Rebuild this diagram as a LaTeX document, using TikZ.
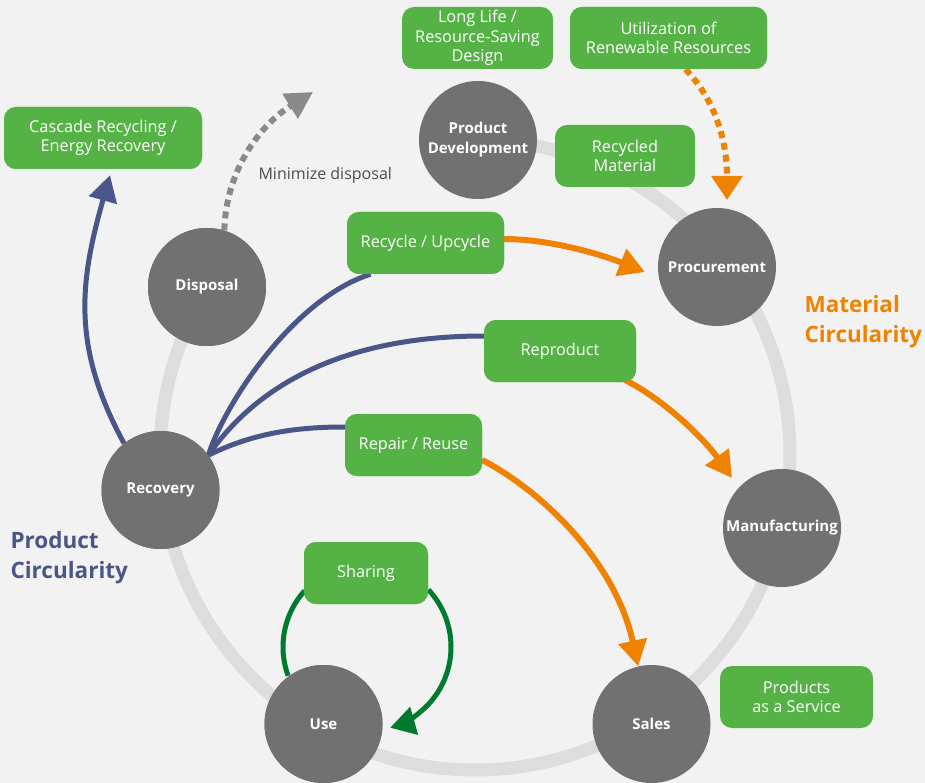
\documentclass[tikz,border=0pt]{standalone}
\usepackage{fontspec}
\setmainfont{Open Sans}
\usetikzlibrary{arrows.meta}
\definecolor{bg}{HTML}{F2F2F2}
\definecolor{ringc}{HTML}{DCDEDD}
\definecolor{nodegray}{HTML}{717171}
\definecolor{boxgreen}{HTML}{54B344}
\definecolor{darkgreen}{HTML}{007A2F}
\definecolor{orng}{HTML}{EF8200}
\definecolor{blu}{HTML}{4A5687}
\definecolor{dotgray}{HTML}{8A8A8A}
\definecolor{txtgray}{HTML}{4D4D4D}
\tikzset{
  stage/.style={circle, fill=nodegray, minimum size=118pt, inner sep=0pt, text=white,
    font=\fontsize{15}{20}\selectfont\bfseries, align=center},
  gbox/.style={rounded corners=12pt, fill=boxgreen, minimum height=62pt, inner sep=0pt,
    text=white, font=\fontsize{16.3}{19.5}\selectfont, align=center},
  bluline/.style={draw=blu, line width=5pt},
  orline/.style={draw=orng, line width=6pt, -{Triangle[length=26pt,width=28pt]}},
  ordot/.style={draw=orng, line width=6pt, dash pattern=on 7pt off 5pt, -{Triangle[length=24pt,width=30pt]}},
  grdot/.style={draw=dotgray, line width=6pt, dash pattern=on 7pt off 5pt, -{Triangle[length=27pt,width=28pt]}},
  grnline/.style={draw=darkgreen, line width=5pt},
  bigring/.style={draw=ringc, line width=13pt},
  circlabel/.style={font=\fontsize{22.5}{30}\selectfont\bfseries, align=left, anchor=west}
}
\begin{document}
\begin{tikzpicture}[x=1pt,y=-1pt]
\useasboundingbox (0,0) rectangle (925,783);
\fill[bg] (0,0) rectangle (925,783);

% ring
\coordinate (rc) at (475,455);
\draw[bigring] (rc) ++(-89.5:315) arc[start angle=-89.5, end angle=212.1, radius=315];

% stage nodes
\node[stage] (pd) at (478,140) {Product\\Development};
\node[stage] (proc) at (717,267) {Procurement};
\node[stage] (manu) at (782,528) {Manufacturing};
\node[stage] (sales) at (651.5,724) {Sales};
\node[stage] (use) at (323.5,724) {Use};
\node[stage] (rec) at (160.5,490) {Recovery};
\node[stage] (disp) at (207,287) {Disposal};

% green boxes
\node[gbox, minimum width=198pt] (casc) at (103,138) {Cascade Recycling /\\Energy Recovery};
\node[gbox, minimum width=151pt] (ll) at (477.5,38) {Long Life /\\Resource-Saving\\Design};
\node[gbox, minimum width=197pt] (util) at (668.5,38) {Utilization of\\Renewable Resources};
\node[gbox, minimum width=140pt] (rm) at (625,156) {Recycled\\Material};
\node[gbox, minimum width=157pt] (recy) at (425.5,243) {Recycle / Upcycle};
\node[gbox, minimum width=152pt] (repro) at (560,351) {Reproduct};
\node[gbox, minimum width=137pt] (rep) at (413.5,445) {Repair / Reuse};
\node[gbox, minimum width=124pt] (shar) at (366,573) {Sharing};
\node[gbox, minimum width=153pt] (paas) at (796.5,697) {Products\\as a Service};

% blue lines from recovery
\draw[bluline] (rec.36) .. controls (222,410) and (290,300) .. ([shift={(-55,0)}]recy.south);
\draw[bluline] (rec.36) .. controls (250,395) and (330,336) .. ([shift={(0,-15)}]repro.west);
\draw[bluline] (rec.36) .. controls (255,432) and (300,427) .. ([shift={(0,-18)}]rep.west);
\draw[bluline, -{Triangle[length=26pt,width=28pt]}] (rec.128) .. controls (71,346) and (80,281) .. ([shift={(7,6)}]casc.south);
% gray dotted
\coordinate (mdtip) at (313,92);
\draw[grdot] (disp.73) .. controls (226,170) and (260,125) .. (mdtip);
% orange
\draw[orline] ([shift={(0,-4)}]recy.east) .. controls (545,239) and (595,252) .. ([shift={(-72,5)}]proc.center);
\draw[orline] ([shift={(65,29)}]repro.center) .. controls (665,400) and (705,440) .. ([shift={(-50,-50)}]manu.center);
\draw[orline] ([shift={(0,15)}]rep.east) .. controls (540,490) and (615,560) .. (sales.103);
\draw[ordot] ([shift={(17,0)}]util.south) .. controls (715,100) and (727,140) .. ([shift={(10,-67)}]proc.center);
% green loop
\coordinate (lc) at (367,647);
\draw[grnline] (lc) ++(160:84) arc[start angle=160, end angle=222, radius=84];
\draw[grnline, -{Triangle[length=25pt,width=28pt]}] (lc) ++(-43:84) arc[start angle=-43, end angle=74, radius=84];

% boxes and stages on top of connectors
\node[gbox, minimum width=157pt] at (recy) {Recycle / Upcycle};
\node[gbox, minimum width=152pt] at (repro) {Reproduct};
\node[gbox, minimum width=137pt] at (rep) {Repair / Reuse};
\node[gbox, minimum width=124pt] at (shar) {Sharing};
\node[gbox, minimum width=198pt] at (casc) {Cascade Recycling /\\Energy Recovery};
\node[gbox, minimum width=197pt] at (util) {Utilization of\\Renewable Resources};
\node[stage] at (rec) {Recovery};
\node[stage] at (use) {Use};
\node[stage] at (disp) {Disposal};

% labels
\node[font=\fontsize{16}{18}\selectfont, text=txtgray, anchor=west] (mdl) at (255,175) {Minimize disposal};
\node[circlabel, text=orng] (matc) at (801,322) {Material\\Circularity};
\node[circlabel, text=blu] (prodc) at (7,558) {Product\\Circularity};
\end{tikzpicture}
\end{document}
